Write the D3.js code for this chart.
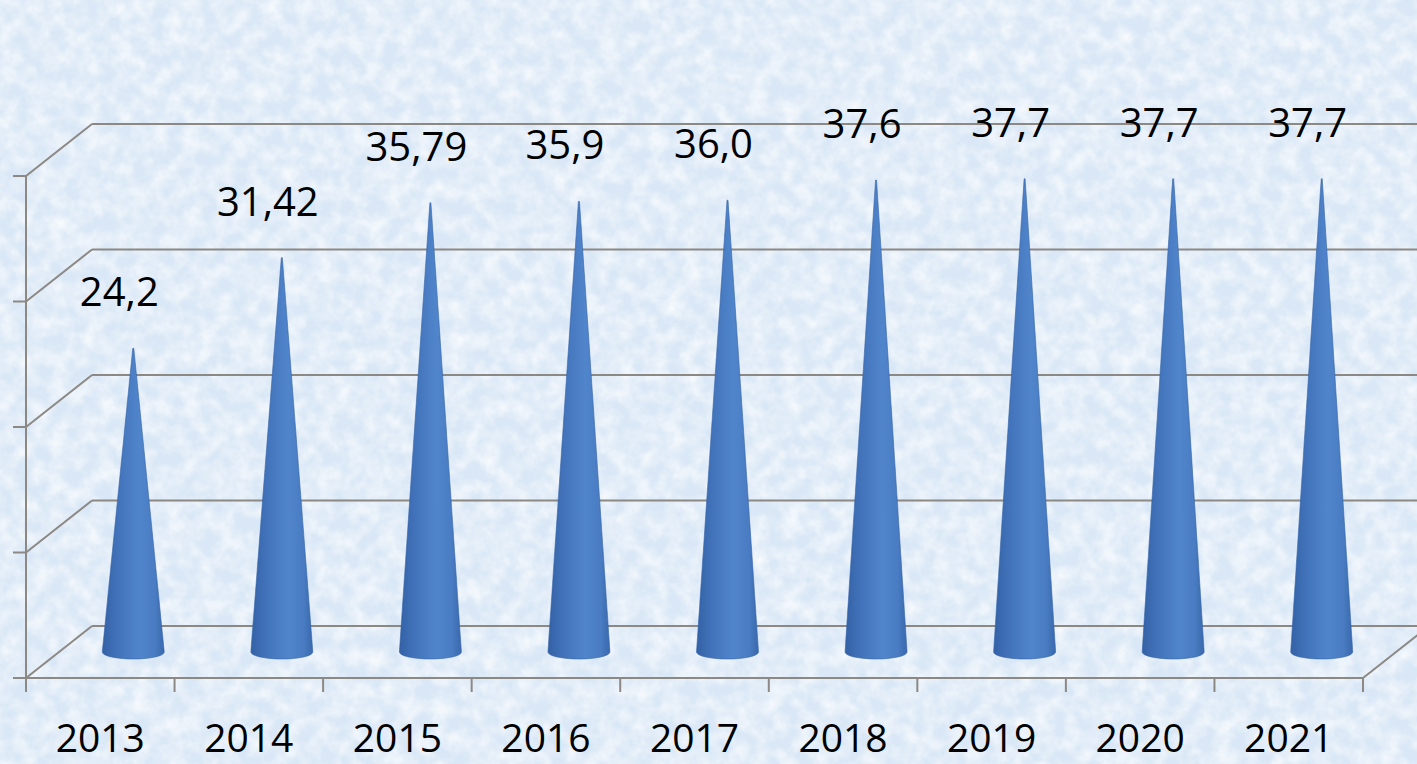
<!DOCTYPE html>
<html>
<head>
<meta charset="utf-8">
<script src="https://cdn.jsdelivr.net/npm/d3@7"></script>
<style>
  html, body { margin: 0; padding: 0; overflow: hidden; }
  svg { display: block; }
  .grid { stroke: #8c8884; stroke-width: 2; fill: none; }
  text { font-family: "Open Sans", sans-serif; fill: #000; }
</style>
</head>
<body>
<div id="chart"></div>
<script>
// data
var years = ["2013", "2014", "2015", "2016", "2017", "2018", "2019", "2020", "2021"];
var values = [24.2, 31.42, 35.79, 35.9, 36.0, 37.6, 37.7, 37.7, 37.7];
var valueLabels = ["24,2", "31,42", "35,79", "35,9", "36,0", "37,6", "37,7", "37,7", "37,7"];
var gridValues = [0, 10, 20, 30, 40];

var width = 1417, height = 764,
  plotLeft = 26, plotRight = 1363, plotBottom = 678, plotTop = 176,
  depth = [66, -52]; // oblique offset of the back wall

var svg = d3.select("#chart").append("svg")
  .attr("width", width)
  .attr("height", height);

var defs = svg.append("defs");

// textured light blue background
var tex = defs.append("filter").attr("id", "tex")
  .attr("x", 0).attr("y", 0).attr("width", "100%").attr("height", "100%");
tex.append("feTurbulence")
  .attr("type", "fractalNoise").attr("baseFrequency", "0.06")
  .attr("numOctaves", 3).attr("seed", 7);
tex.append("feColorMatrix").attr("type", "matrix")
  .attr("values", "0 0 0 0 1  0 0 0 0 1  0 0 0 0 1  1.3 0 0 0 -0.4");

var grad = defs.append("linearGradient").attr("id", "cone")
  .attr("x1", "0%").attr("x2", "100%").attr("y1", "0%").attr("y2", "0%");
[["0%", "#3361a6"], ["25%", "#4273ba"], ["60%", "#5085cc"], ["85%", "#497cc2"], ["100%", "#3968ad"]]
  .forEach(function (s) { grad.append("stop").attr("offset", s[0]).attr("stop-color", s[1]); });

svg.append("rect").attr("width", width).attr("height", height).attr("fill", "#d9e7f6");
svg.append("rect").attr("width", width).attr("height", height).attr("filter", "url(#tex)");

var x = d3.scaleBand().domain(years).range([plotLeft, plotRight]);
var y = d3.scaleLinear().domain([0, 40]).range([plotBottom, plotTop]);

var g = svg.append("g");

// back wall gridlines
g.selectAll(".back").data(gridValues).enter().append("line")
  .attr("class", "grid back")
  .attr("x1", plotLeft + depth[0]).attr("x2", width + 20)
  .attr("y1", function (d) { return y(d) + depth[1]; })
  .attr("y2", function (d) { return y(d) + depth[1]; });

// side wall gridlines
g.selectAll(".side").data(gridValues).enter().append("line")
  .attr("class", "grid side")
  .attr("x1", plotLeft).attr("x2", plotLeft + depth[0])
  .attr("y1", function (d) { return y(d); })
  .attr("y2", function (d) { return y(d) + depth[1]; });

// floor right edge
g.append("line").attr("class", "grid")
  .attr("x1", plotRight).attr("y1", y(0))
  .attr("x2", plotRight + depth[0]).attr("y2", y(0) + depth[1]);

// value axis (front)
g.append("line").attr("class", "grid")
  .attr("x1", plotLeft).attr("x2", plotLeft).attr("y1", y(40)).attr("y2", y(0) + 14);
g.selectAll(".ytick").data(gridValues).enter().append("line")
  .attr("class", "grid")
  .attr("x1", plotLeft - 13).attr("x2", plotLeft)
  .attr("y1", function (d) { return y(d); })
  .attr("y2", function (d) { return y(d); });

// category axis (front)
g.append("line").attr("class", "grid")
  .attr("x1", plotLeft).attr("x2", plotRight).attr("y1", y(0)).attr("y2", y(0));
g.selectAll(".xtick").data(years.concat(["end"])).enter().append("line")
  .attr("class", "grid")
  .attr("x1", function (d, i) { return plotLeft + i * x.step(); })
  .attr("x2", function (d, i) { return plotLeft + i * x.step(); })
  .attr("y1", y(0)).attr("y2", y(0) + 14);

g.selectAll(".year").data(years).enter().append("text")
  .attr("x", function (d) { return x(d) + x.bandwidth() / 2; })
  .attr("y", 752)
  .attr("text-anchor", "middle")
  .style("font-size", "39px")
  .text(function (d) { return d; });

// cones, placed at mid depth
var r = 31, ry = 7;
function coneX(d) { return x(d) + x.bandwidth() / 2 + depth[0] / 2; }
var baseY = y(0) + depth[1] / 2;

g.selectAll(".cone").data(years).enter().append("path")
  .attr("class", "cone")
  .attr("fill", "url(#cone)")
  .attr("stroke", "#3563a8")
  .attr("stroke-width", 0.6)
  .attr("d", function (d, i) {
    var cx = coneX(d), ty = y(values[i]) + depth[1] / 2;
    return "M" + (cx - r) + "," + baseY +
      "L" + (cx - 0.5) + "," + ty +
      "L" + (cx + 0.5) + "," + ty +
      "L" + (cx + r) + "," + baseY +
      "A" + r + "," + ry + " 0 0 1 " + (cx - r) + "," + baseY + "Z";
  });

// data labels
g.selectAll(".val").data(years).enter().append("text")
  .attr("x", function (d) { return coneX(d) - 14; })
  .attr("y", function (d, i) { return y(values[i]) + depth[1] / 2 - 42; })
  .attr("text-anchor", "middle")
  .style("font-size", "40px")
  .text(function (d, i) { return valueLabels[i]; });
</script>
</body>
</html>
